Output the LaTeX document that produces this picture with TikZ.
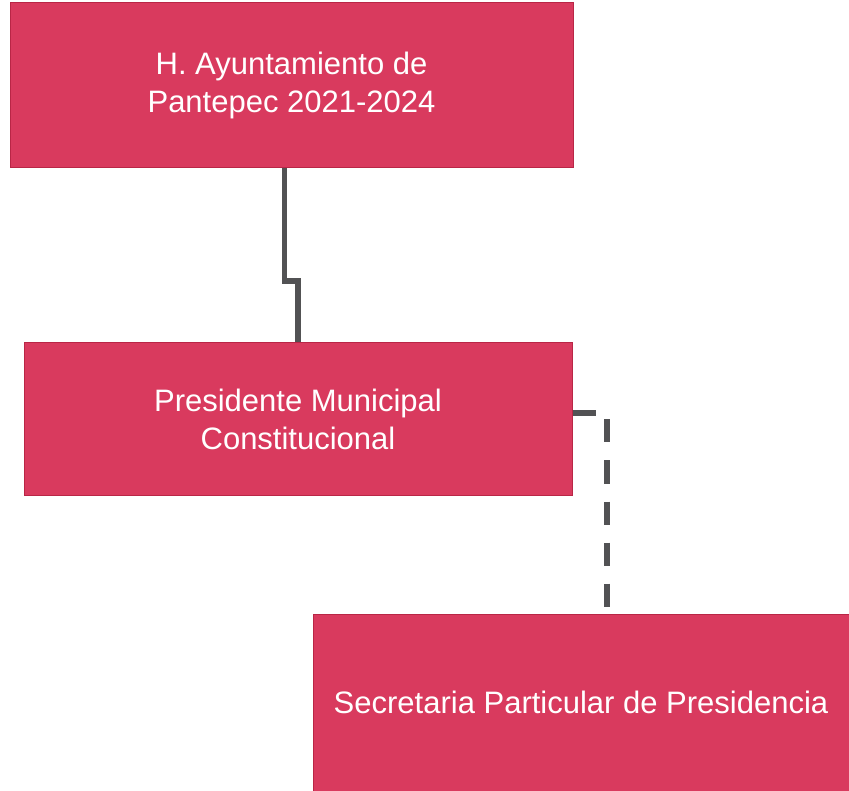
\documentclass[tikz,border=0pt]{standalone}
\usepackage{fontspec}
\setmainfont{Liberation Sans}
\definecolor{boxred}{RGB}{217,58,94}
\definecolor{boxedge}{RGB}{185,38,70}
\definecolor{linegray}{RGB}{82,82,84}
\begin{document}
\begin{tikzpicture}[x=1pt,y=-1pt,
	cargo/.style={rectangle, draw = boxedge, line width = 1pt, fill = boxred, text = white, align = center, inner sep = 0pt, font = \fontsize{31}{38}\selectfont},
	liga/.style={draw = linegray, line width = 5.5pt},
	apoyo/.style={liga, dash pattern = on 23pt off 18pt}]
	\useasboundingbox (0,0) rectangle (849,791);
	\node (Ayu)  at (291.5,  85.5)	[cargo, minimum width = 563pt, minimum height = 165pt]	{H. Ayuntamiento de\\Pantepec 2021-2024};
	\node (Pres) at (298,   419)	[cargo, minimum width = 548pt, minimum height = 152pt]	{Presidente Municipal\\Constitucional};
	\node (Sec)  at (581,   702.5)	[cargo, minimum width = 536pt, minimum height = 177pt]	{Secretaria Particular de Presidencia};
	\coordinate (k1) at (284.5, 281);
	\coordinate (k2) at (607, 614);
	\draw[liga] (Ayu.south -| k1) -- (k1) -| (Pres.north);
	\draw[apoyo] ([yshift=6pt]Pres.east) -| (k2);
\end{tikzpicture}
\end{document}
